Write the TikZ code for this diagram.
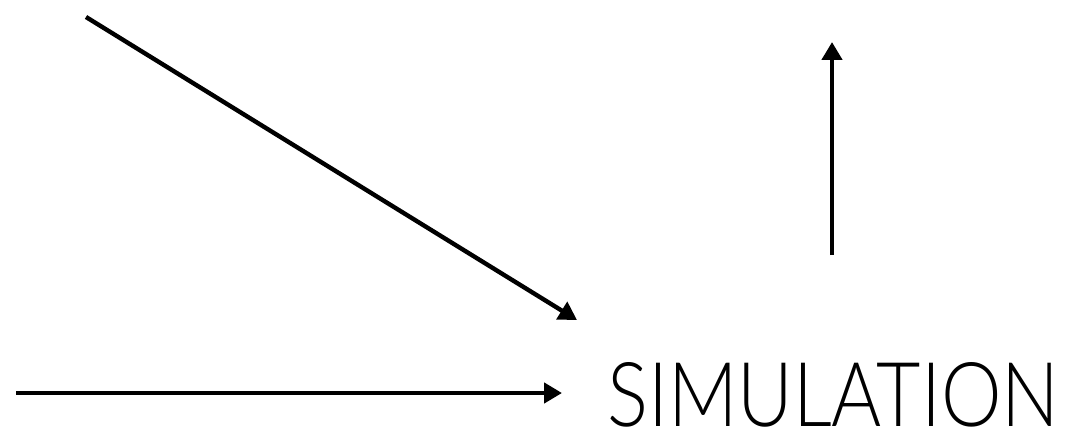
\documentclass[tikz,border=0pt]{standalone}
\usepackage{fontspec}
\newfontfamily\simfont{Lato}[UprightFont=* Light]
\usetikzlibrary{arrows.meta, positioning}

\begin{document}
\begin{tikzpicture}[x=0.75pt, y=-0.75pt, >={Triangle[length=13.5pt, width=15pt]}, line width=3.3pt]
      \useasboundingbox (0,0) rectangle (1070,431);
      \node[anchor=base west, inner sep=0pt] (sim) at (605,426) {\resizebox{339pt}{48pt}{\simfont SIMULATION}};
      \coordinate (diagstart) at (86,17);
      \coordinate (diagend) at (577,320);
      \coordinate (leftstart) at (16,393);
      \coordinate (leftend) at (562,393);
      \coordinate (upstart) at (832,255);
      \coordinate (upend) at (832,42);

      \draw[->] (diagstart) -- (diagend);
      \draw[->] (leftstart) -- (leftend);
      \draw[->] (upstart) -- (upend);
    \end{tikzpicture}
\end{document}
